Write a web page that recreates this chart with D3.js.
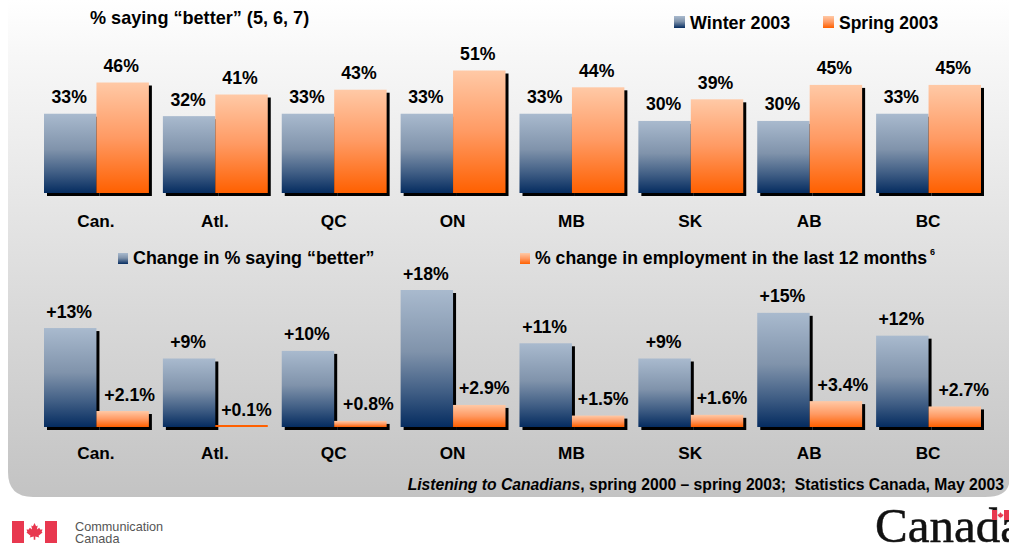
<!DOCTYPE html>
<html>
<head>
<meta charset="utf-8">
<script src="https://cdn.jsdelivr.net/npm/d3@7"></script>
<style>
    html, body { margin: 0; padding: 0; background: #fff; overflow: hidden; }
    text { font-family: "Liberation Sans", Arial, sans-serif; font-weight: bold; fill: #000; }
</style>
</head>
<body>
<svg width="1009" height="546"></svg>
<script>
// chart values
const regions = ["Can.", "Atl.", "QC", "ON", "MB", "SK", "AB", "BC"];
const winter2003 = [33, 32, 33, 33, 33, 30, 30, 33];
const spring2003 = [46, 41, 43, 51, 44, 39, 45, 45];
const changeBetter = [13, 9, 10, 18, 11, 9, 15, 12];
const changeEmployment = [2.1, 0.1, 0.8, 2.9, 1.5, 1.6, 3.4, 2.7];

let svg = d3.select("svg");
let defs = svg.append("defs");

function addGradient(id, stops) {
    let grad = defs.append("linearGradient")
        .attr("id", id)
        .attr("x1", 0).attr("y1", 0).attr("x2", 0).attr("y2", 1);
    for (let s of stops) {
        grad.append("stop").attr("offset", s[0]).attr("stop-color", s[1]);
    }
}

addGradient("panelGrad", [[0, "#ffffff"], [0.1, "#f8f8f8"], [1, "#c3c3c3"]]);
addGradient("winterGrad", [[0, "#a9bace"], [0.45, "#8093ab"], [0.75, "#3f5d84"], [1, "#052c60"]]);
addGradient("springGrad", [[0, "#ffc9a6"], [0.5, "#ff9a63"], [1, "#ff6000"]]);

// panel with rounded bottom corners
svg.append("path")
    .attr("d", "M8,0 H1009 V484 Q1006,497 985,497 H33 Q8,497 8,472 Z")
    .attr("fill", "url(#panelGrad)");

let x0 = d3.scaleBand().domain(regions).range([44, 981]).paddingInner(14 / 119);
let x1 = d3.scaleBand().domain([0, 1]).range([0, x0.bandwidth()]);

let yTop = d3.scaleLinear().domain([0, 51]).range([193, 70.5]);
let yBottom = d3.scaleLinear().domain([0, 18]).range([427, 290]);

// labels in the bottom row sit off centre, each by its own amount
const employmentLabelNudge = [7, 5, 8, 5, 5, 5, 7, 9];

function drawPanel(first, second, y, fmtFirst, fmtSecond, nudgeFirst, nudgeSecond, catY) {
    let base = y(0);
    let series = [
        { values: first, fill: "url(#winterGrad)", fmt: fmtFirst, nudge: nudgeFirst },
        { values: second, fill: "url(#springGrad)", fmt: fmtSecond, nudge: nudgeSecond }
    ];
    let g = svg.append("g");

    // shadows go under both bars
    series.forEach((s, i) => {
        g.selectAll(null)
            .data(regions.filter((r, k) => s.values[k] >= 0.5))
            .enter().append("rect")
            .attr("x", d => x0(d) + x1(i) + 3)
            .attr("y", d => y(s.values[regions.indexOf(d)]) + 3)
            .attr("width", x1.bandwidth())
            .attr("height", d => base - y(s.values[regions.indexOf(d)]))
            .attr("fill", "#000");
    });

    series.forEach((s, i) => {
        g.selectAll(null)
            .data(regions)
            .enter().append("rect")
            .attr("x", d => x0(d) + x1(i))
            .attr("y", d => Math.min(y(s.values[regions.indexOf(d)]), base - 2))
            .attr("width", x1.bandwidth())
            .attr("height", d => Math.max(base - y(s.values[regions.indexOf(d)]), 2))
            // a sliver of a bar would only show the pale top of the gradient
            .attr("fill", d => s.values[regions.indexOf(d)] < 0.5 ? "#ff6000" : s.fill);

        g.selectAll(null)
            .data(regions)
            .enter().append("text")
            .attr("x", d => x0(d) + x1(i) + x1.bandwidth() / 2 + s.nudge[regions.indexOf(d)])
            .attr("y", d => y(s.values[regions.indexOf(d)]) - 10.5)
            .attr("text-anchor", "middle")
            .attr("font-size", 17.7)
            .text(d => s.fmt(s.values[regions.indexOf(d)]));
    });

    // category names
    g.selectAll(null)
        .data(regions)
        .enter().append("text")
        .attr("x", d => x0(d) + x0.bandwidth() / 2 - 0.5)
        .attr("y", catY)
        .attr("text-anchor", "middle")
        .attr("font-size", 17.2)
        .text(d => d);
}

drawPanel(winter2003, spring2003, yTop, d => d + "%", d => d + "%",
    regions.map(() => -1), regions.map(() => -1.5), 227);
drawPanel(changeBetter, changeEmployment, yBottom, d => "+" + d + "%", d => "+" + d.toFixed(1) + "%",
    regions.map(() => -1), employmentLabelNudge, 459);

function label(x, y, str, size) {
    return svg.append("text").attr("x", x).attr("y", y).attr("font-size", size).text(str);
}

function swatch(x, y, w, h, fill) {
    svg.append("rect").attr("x", x).attr("y", y).attr("width", w).attr("height", h).attr("fill", fill);
}

// titles and legends
label(90, 24, "% saying \u201Cbetter\u201D (5, 6, 7)", 18.1);
swatch(674, 16, 11, 12, "url(#winterGrad)");
label(690, 29, "Winter 2003", 17.9);
swatch(823, 16, 11, 12, "url(#springGrad)");
label(839, 29, "Spring 2003", 17.5);

swatch(118, 253, 10, 11, "url(#winterGrad)");
label(133, 264, "Change in % saying \u201Cbetter\u201D", 17.9);
swatch(520, 253, 10, 11, "url(#springGrad)");
label(535, 264, "% change in employment in the last 12 months", 17.65);
label(930, 255, "6", 9);

// source line
let src = svg.append("text")
    .attr("x", 1004).attr("y", 490)
    .attr("text-anchor", "end")
    .attr("font-size", 15.7);
src.append("tspan").attr("font-style", "italic").text("Listening to Canadians");
src.append("tspan").text(", spring 2000 \u2013 spring 2003;\u00A0\u00A0Statistics Canada, May 2003");

// department logo
const leaf = "M0,-10 L2,-6 L4,-7 L3,-2 L6,-4 L7,-2 L10,-2 L9,1 L10,2 L5,6 L6,8 L1,7 L1,11 L-1,11 L-1,7 L-6,8 L-5,6 L-10,2 L-9,1 L-10,-2 L-7,-2 L-6,-4 L-3,-2 L-4,-7 L-2,-6 Z";
swatch(12, 521, 12, 22, "#e8384f");
swatch(45, 521, 12, 22, "#e8384f");
svg.append("path").attr("d", leaf).attr("transform", "translate(34.5,531) scale(0.8)").attr("fill", "#e8384f");
svg.append("text").attr("x", 75).attr("y", 531).attr("font-size", 12.7)
    .style("font-weight", "normal").style("fill", "#555").text("Communication");
svg.append("text").attr("x", 75).attr("y", 543).attr("font-size", 12.7)
    .style("font-weight", "normal").style("fill", "#555").text("Canada");

// wordmark, cut by the right edge as in the source slide
svg.append("text").attr("x", 875).attr("y", 542)
    .attr("font-size", 49)
    .style("font-family", "'Liberation Serif', serif")
    .style("font-weight", "normal").style("fill", "#111")
    .style("stroke", "#111").style("stroke-width", 0.5)
    .text("Canada");
swatch(992, 510, 5, 10, "#e8384f");
swatch(1004, 510, 5, 10, "#e8384f");
svg.append("path").attr("d", leaf).attr("transform", "translate(1000.5,515) scale(0.3)").attr("fill", "#e8384f");
</script>
</body>
</html>
